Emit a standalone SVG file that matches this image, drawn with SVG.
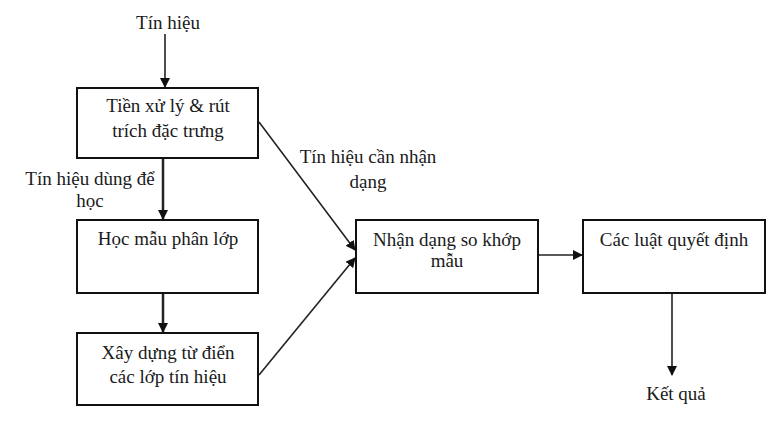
<svg xmlns="http://www.w3.org/2000/svg" width="782" height="424" viewBox="0 0 782 424">
<style>
.box{fill:#fff;stroke:#111;stroke-width:2}
.t{font-family:"Liberation Serif","Times New Roman",serif;font-size:19px;fill:#1a1a1a;text-anchor:middle}
.c{fill:none;stroke:#222;stroke-width:1.6}
.thick{stroke-width:2.5}
</style>
<defs>
<marker id="ah" markerWidth="10" markerHeight="10" refX="9" refY="5" orient="auto" markerUnits="userSpaceOnUse">
<path d="M0,0 L10,5 L0,10 Z" fill="#111"/>
</marker>
</defs>
<rect width="782" height="424" fill="#fff"/>
<g id="connectors">
<line class="c" x1="165" y1="34" x2="165" y2="87" marker-end="url(#ah)"/>
<line class="c thick" x1="163" y1="158" x2="163" y2="219" marker-end="url(#ah)"/>
<line class="c thick" x1="163" y1="293" x2="163" y2="332" marker-end="url(#ah)"/>
<line class="c" x1="259" y1="122" x2="355" y2="250" marker-end="url(#ah)"/>
<line class="c" x1="259" y1="375" x2="355" y2="258" marker-end="url(#ah)"/>
<line class="c" x1="538" y1="255" x2="582" y2="255" marker-end="url(#ah)"/>
<line class="c" x1="672" y1="293" x2="672" y2="375" marker-end="url(#ah)"/>
</g>
<g id="lbl-tinhieu"><text class="t" x="168" y="29">Tín hiệu</text></g>
<g id="n1"><rect class="box" x="77" y="88" width="181" height="70"/>
<text class="t" x="168" y="112">Tiền xử lý &amp; rút</text>
<text class="t" x="168" y="137">trích đặc trưng</text></g>
<g id="lbl-hoc"><text class="t" x="90" y="185">Tín hiệu dùng để</text><text class="t" x="90" y="207">học</text></g>
<g id="lbl-nhan"><text class="t" x="368" y="163">Tín hiệu cần nhận</text><text class="t" x="368" y="188">dạng</text></g>
<g id="n2"><rect class="box" x="77" y="220" width="181" height="73"/>
<text class="t" x="168" y="245">Học mẫu phân lớp</text></g>
<g id="n3"><rect class="box" x="77" y="333" width="181" height="72"/>
<text class="t" x="168" y="359">Xây dựng từ điển</text>
<text class="t" x="168" y="383">các lớp tín hiệu</text></g>
<g id="n4"><rect class="box" x="356" y="220" width="182" height="73"/>
<text class="t" x="447" y="246">Nhận dạng so khớp</text>
<text class="t" x="447" y="267">mẫu</text></g>
<g id="n5"><rect class="box" x="583" y="220" width="182" height="73"/>
<text class="t" x="674" y="246">Các luật quyết định</text></g>
<g id="lbl-kq"><text class="t" x="676" y="400">Kết quả</text></g>
</svg>
